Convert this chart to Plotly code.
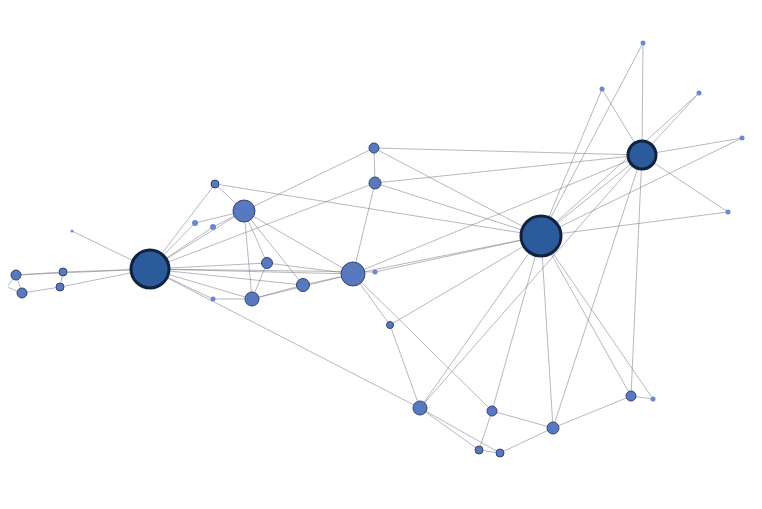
import plotly.graph_objects as go

# Node data
node_ids = ["A", "B", "C", "D", "E", "F", "G", "H", "I", "J", "K", "L", "M", "N", "O",
            "P", "Q", "R", "S", "T", "U", "V", "W", "X", "Y", "Z", "AA", "AB", "AC",
            "AD", "AE", "AF", "AG", "AH"]
node_x = [150, 541, 642, 244, 353, 252, 303, 267, 374, 375, 215, 195, 213, 213, 72,
          16, 63, 7, 22, 60, 375, 390, 420, 492, 553, 479, 500, 631, 653,
          643, 602, 699, 742, 728]
node_y = [269, 236, 155, 211, 274, 299, 285, 263, 148, 183, 184, 223, 227, 299, 231,
          275, 272, 287, 293, 287, 272, 325, 408, 411, 428, 450, 453, 396, 399,
          43, 89, 93, 138, 212]
node_deg = [38, 40, 28, 22, 24, 14, 13, 11, 10, 12, 8, 6, 6, 5, 3,
            10, 8, 6, 10, 8, 5, 7, 14, 10, 12, 8, 8, 10, 5,
            5, 5, 5, 5, 5]

edges = [
    ("P", "Q"), ("P", "R"), ("R", "S"), ("P", "S"), ("S", "T"), ("Q", "T"),
    ("Q", "A"), ("T", "A"), ("P", "A"), ("O", "A"),
    ("A", "K"), ("A", "L"), ("A", "M"), ("A", "D"), ("A", "J"), ("A", "H"),
    ("A", "E"), ("A", "G"), ("A", "F"), ("A", "N"), ("A", "W"), ("A", "U"),
    ("D", "K"), ("D", "L"), ("D", "M"), ("D", "F"), ("D", "H"), ("D", "G"),
    ("D", "E"), ("D", "I"),
    ("K", "B"), ("H", "F"), ("H", "E"), ("G", "E"), ("F", "G"), ("F", "E"), ("N", "F"),
    ("I", "J"), ("I", "B"), ("I", "C"), ("J", "B"), ("J", "C"), ("J", "E"),
    ("E", "C"), ("E", "B"), ("U", "B"), ("E", "V"), ("E", "X"),
    ("V", "B"), ("V", "W"), ("B", "W"), ("C", "W"), ("B", "X"), ("B", "Y"),
    ("C", "Y"), ("C", "AB"), ("B", "AB"), ("B", "AC"),
    ("W", "Z"), ("W", "AA"), ("X", "Z"), ("X", "Y"), ("Z", "AA"), ("AA", "Y"),
    ("Y", "AB"), ("AB", "AC"),
    ("B", "C"), ("B", "AD"), ("B", "AE"), ("B", "AF"), ("B", "AG"), ("B", "AH"),
    ("C", "AD"), ("C", "AE"), ("C", "AF"), ("C", "AG"), ("C", "AH"),
]

idx = {n: i for i, n in enumerate(node_ids)}
ex, ey = [], []
for a, b in edges:
    ex += [node_x[idx[a]], node_x[idx[b]], None]
    ey += [node_y[idx[a]], node_y[idx[b]], None]

fig = go.Figure()
fig.add_trace(go.Scatter(x=ex, y=ey, mode="lines",
                         line=dict(color="rgba(125,125,142,0.7)", width=0.8),
                         hoverinfo="skip", showlegend=False, cliponaxis=False))

groups = [
    ([i for i, d in enumerate(node_deg) if d >= 25], "#2c5b9b", "#0f2340", 3),
    ([i for i, d in enumerate(node_deg) if 7 <= d < 25], "#5878bf", "#34466f", 1),
    ([i for i, d in enumerate(node_deg) if d < 7], "#6a87cf", "#6a87cf", 0),
]
for ids, fill, border, bw in groups:
    fig.add_trace(go.Scatter(
        x=[node_x[i] for i in ids], y=[node_y[i] for i in ids],
        mode="markers", text=[node_ids[i] for i in ids], hoverinfo="text",
        marker=dict(size=[node_deg[i] for i in ids], color=fill,
                    line=dict(color=border, width=bw), opacity=1),
        showlegend=False, cliponaxis=False))

# page body adds an 8px margin; shift the view so pixel positions line up
fig.update_layout(
    width=762, height=509,
    margin=dict(l=0, r=0, t=0, b=0),
    paper_bgcolor="white", plot_bgcolor="white",
    xaxis=dict(range=[8, 770], visible=False, fixedrange=True),
    yaxis=dict(range=[517, 8], visible=False, fixedrange=True),
)
fig.write_html("out.html")
